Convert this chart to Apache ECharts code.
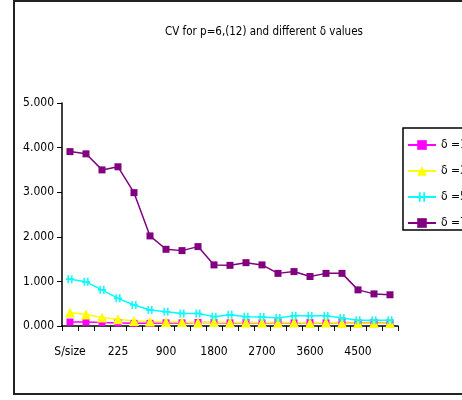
<!DOCTYPE html>
<html>
<head>
<meta charset="utf-8">
<script src="https://cdn.jsdelivr.net/npm/echarts@6/dist/echarts.min.js"></script>
<style>
  html, body { margin: 0; padding: 0; background: #fff; }
  #chart { width: 462px; height: 400px; }
</style>
</head>
<body>
<div id="chart"></div>
<script>
// Sample sizes along the x axis
const categories = ['S/size', '25', '100', '225', '400', '625', '900', '1200', '1500', '1800', '2100',
  '2400', '2700', '3000', '3300', '3600', '3900', '4200', '4500', '4800', '5100'];

// CV values for each delta
const delta1 = [0.09, 0.09, 0.08, 0.07, 0.06, 0.06, 0.07, 0.07, 0.08, 0.08, 0.07,
  0.08, 0.07, 0.08, 0.07, 0.08, 0.07, 0.08, 0.07, 0.08, 0.07];
const delta3 = [0.30, 0.26, 0.19, 0.15, 0.11, 0.10, 0.09, 0.09, 0.08, 0.09, 0.08,
  0.08, 0.08, 0.08, 0.08, 0.07, 0.08, 0.07, 0.07, 0.07, 0.07];
const delta5 = [1.05, 0.99, 0.81, 0.62, 0.47, 0.36, 0.32, 0.28, 0.28, 0.21, 0.25,
  0.21, 0.20, 0.18, 0.23, 0.23, 0.23, 0.18, 0.13, 0.13, 0.13];
const delta7 = [3.91, 3.86, 3.50, 3.57, 2.99, 2.02, 1.72, 1.69, 1.78, 1.37, 1.36,
  1.42, 1.37, 1.18, 1.22, 1.11, 1.18, 1.18, 0.81, 0.72, 0.70];

const seriesNames = ['\u03b4 =1', '\u03b4 =3', '\u03b4 =5', '\u03b4 =7'];
const titleText = 'CV for p=6,(12) and different \u03b4 values';

const FONT = '"Liberation Sans Narrow", "DejaVu Sans Condensed", "Liberation Sans", sans-serif';

const crossMarker = 'path://M0,0 L2,0 L2,10 L0,10 Z M5,0 L7,0 L7,10 L5,10 Z M-2,4 L9,4 L9,6 L-2,6 Z';

function makeSeries(name, data, color, symbol, size) {
  return {
    name: name,
    type: 'line',
    data: data,
    symbol: symbol,
    symbolSize: size,
    showAllSymbol: true,
    lineStyle: { color: color, width: 1.5 },
    itemStyle: { color: color },
    emphasis: { disabled: true },
    animation: false
  };
}

const chart = echarts.init(document.getElementById('chart'));
chart.setOption({
  backgroundColor: '#fff',
  animation: false,
  title: {
    text: titleText,
    left: 160,
    top: 21,
    textStyle: { fontFamily: FONT, fontSize: 11.5, fontWeight: 'normal', color: '#000' }
  },
  graphic: [{
    type: 'rect',
    shape: { x: 14, y: 1, width: 470, height: 393 },
    style: { fill: 'none', stroke: '#222', lineWidth: 2 },
    silent: true,
    z: 0
  }],
  legend: {
    orient: 'vertical',
    left: 403,
    top: 128,
    padding: [11, 40, 1, 4],
    itemGap: 14,
    itemWidth: 28,
    itemHeight: 12,
    borderColor: '#000',
    borderWidth: 1.5,
    data: seriesNames,
    textStyle: { fontFamily: FONT, fontSize: 12, color: '#000' }
  },
  grid: { left: 62, right: 64, top: 103, bottom: 74 },
  xAxis: {
    type: 'category',
    data: categories,
    boundaryGap: true,
    axisLine: { lineStyle: { color: '#000', width: 1.5 } },
    axisTick: { show: true, interval: 0, length: 5, lineStyle: { color: '#000' } },
    axisLabel: {
      interval: 2,
      margin: 20,
      fontFamily: FONT,
      fontSize: 12,
      color: '#000'
    },
    splitLine: { show: false }
  },
  yAxis: {
    type: 'value',
    min: 0,
    max: 5,
    interval: 1,
    axisLine: { show: true, lineStyle: { color: '#000', width: 1.5 } },
    axisTick: { show: true, length: 5, lineStyle: { color: '#000' } },
    axisLabel: {
      formatter: v => v.toFixed(3),
      margin: 8,
      fontFamily: FONT,
      fontSize: 12,
      color: '#000'
    },
    splitLine: { show: false }
  },
  series: [
    makeSeries(seriesNames[0], delta1, '#ff00ff', 'rect', 7),
    makeSeries(seriesNames[1], delta3, '#ffff00', 'triangle', 10),
    makeSeries(seriesNames[2], delta5, '#00ffff', crossMarker, [8, 8]),
    makeSeries(seriesNames[3], delta7, '#800080', 'rect', 7)
  ]
});
</script>
</body>
</html>
